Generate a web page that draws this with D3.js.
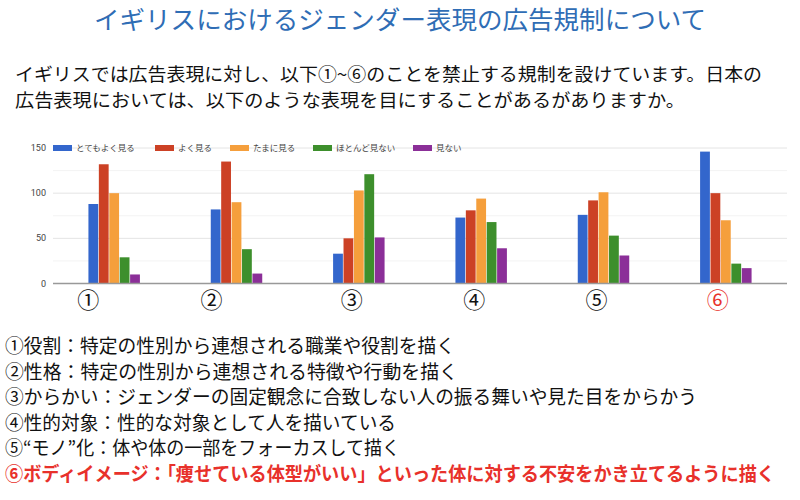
<!DOCTYPE html>
<html><head><meta charset="utf-8">
<script src="https://cdn.jsdelivr.net/npm/d3@7"></script>
<style>body{margin:0;background:#fff}svg{display:block;font-family:"Noto Sans CJK JP",sans-serif}</style>
</head><body><svg id="chart" width="800" height="500"></svg>
<script>
// chart data
const categories = ["①", "②", "③", "④", "⑤", "⑥"];
const seriesNames = ["とてもよく見る", "よく見る", "たまに見る", "ほとんど見ない", "見ない"];
const seriesColors = ["#3366cc", "#cc4125", "#f59f3c", "#3d8f2c", "#8b2f98"];
const values = [
  [88, 132, 100, 29, 10],
  [82, 135, 90, 38, 11],
  [33, 50, 103, 121, 51],
  [73, 81, 94, 68, 39],
  [76, 92, 101, 53, 31],
  [146, 100, 70, 22, 17]
];
const yTicks = [0, 50, 100, 150];
const introLines = [
  "イギリスでは広告表現に対し、以下①~⑥のことを禁止する規制を設けています。日本の",
  "広告表現においては、以下のような表現を目にすることがあるがありますか。"
];
const notes = [
  "①役割：特定の性別から連想される職業や役割を描く",
  "②性格：特定の性別から連想される特徴や行動を描く",
  "③からかい：ジェンダーの固定観念に合致しない人の振る舞いや見た目をからかう",
  "④性的対象：性的な対象として人を描いている",
  "⑤“モノ”化：体や体の一部をフォーカスして描く",
  "⑥ボディイメージ：「痩せている体型がいい」といった体に対する不安をかき立てるように描く"
];
const noteWidths = [450, 453, 692, 391, 395, 770];
const labelShift = [-26, -25, -7, -7, -7, -8];

const svg = d3.select("#chart");

svg.append("text").attr("x", 400).attr("y", 29).attr("text-anchor", "middle")
  .attr("font-size", 25).attr("fill", "#2f6db5").attr("textLength", 612)
  .attr("lengthAdjust", "spacingAndGlyphs")
  .text("イギリスにおけるジェンダー表現の広告規制について");

introLines.forEach((t, i) => {
  svg.append("text").attr("x", 15).attr("y", 81 + i * 26).attr("font-size", 18)
    .attr("fill", "#111").attr("textLength", i ? 670 : 747)
    .attr("lengthAdjust", "spacingAndGlyphs").text(t);
});

// plot area
const pLeft = 53, pRight = 787, pTop = 148, pBottom = 283.5;
const x = d3.scaleBand().domain(categories).range([pLeft, pRight]);
const xi = d3.scaleBand().domain(seriesNames).range([0, x.bandwidth()]).paddingInner(0.06).paddingOuter(3.4);
const y = d3.scaleLinear().domain([0, 150]).range([pBottom, pTop]);

const grid = d3.range(0, 151, 25);
svg.append("g").selectAll("line").data(grid).join("line")
  .attr("x1", pLeft).attr("x2", pRight)
  .attr("y1", d => y(d)).attr("y2", d => y(d))
  .attr("stroke", d => d % 50 ? "#f3f3f3" : "#e4e4e4");

svg.append("g").selectAll("text").data(yTicks).join("text")
  .attr("x", 46).attr("y", d => y(d) + 3).attr("text-anchor", "end")
  .attr("font-size", 9).attr("fill", "#444").attr("font-family", "Roboto")
  .text(d => d);

svg.append("g").selectAll("g").data(values).join("g")
  .attr("transform", (d, i) => `translate(${x(categories[i])},0)`)
  .selectAll("rect").data(d => d).join("rect")
  .attr("x", (d, j) => xi(seriesNames[j]))
  .attr("width", xi.bandwidth())
  .attr("y", d => y(d)).attr("height", d => pBottom - y(d))
  .attr("fill", (d, j) => seriesColors[j]);

svg.append("line").attr("x1", pLeft).attr("x2", pRight).attr("y1", pBottom).attr("y2", pBottom)
  .attr("stroke", "#999").attr("stroke-width", 1.5);

svg.append("g").selectAll("text").data(categories).join("text")
  .attr("x", (d, i) => x(d) + x.bandwidth() / 2 + labelShift[i]).attr("y", 308).attr("text-anchor", "middle")
  .attr("font-size", 22).attr("fill", (d, i) => i === 5 ? "#e8312b" : "#111")
  .text(d => d);

// legend
const legendX = [53, 155, 230, 313, 413];
const lg = svg.append("g").selectAll("g").data(seriesNames).join("g")
  .attr("transform", (d, i) => `translate(${legendX[i]},${pTop})`);
lg.append("rect").attr("y", -3).attr("width", 19).attr("height", 6)
  .attr("fill", (d, i) => seriesColors[i]);
lg.append("text").attr("x", 23).attr("y", 3).attr("font-size", 8.5).attr("fill", "#444").text(d => d);

notes.forEach((t, i) => {
  svg.append("text").attr("x", 5).attr("y", 353 + i * 25.6).attr("font-size", 19)
    .attr("fill", i === 5 ? "#e8312b" : "#111").attr("font-weight", i === 5 ? "bold" : "normal")
    .attr("textLength", noteWidths[i]).attr("lengthAdjust", "spacingAndGlyphs").text(t);
});
</script></body></html>
